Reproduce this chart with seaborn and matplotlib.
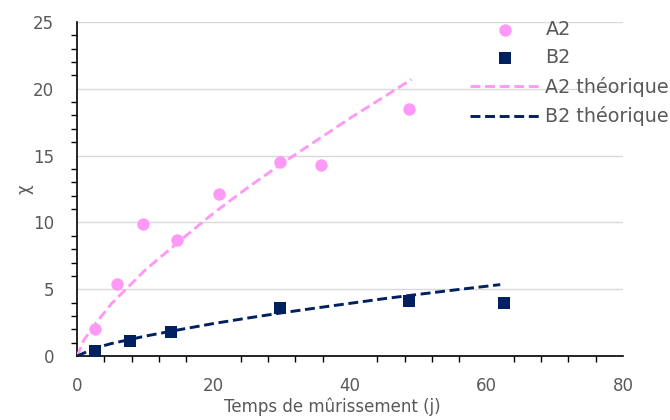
import numpy as np
import matplotlib
matplotlib.use("Agg")
import matplotlib.pyplot as plt
from matplotlib.ticker import MultipleLocator
import seaborn as sns

# measured points
a2_t = [2.6, 5.8, 9.7, 14.7, 20.8, 29.7, 35.8, 48.6]
a2_x = [2.0, 5.4, 9.9, 8.7, 12.1, 14.5, 14.3, 18.5]
b2_t = [2.7, 7.8, 13.7, 29.7, 48.6, 62.6]
b2_x = [0.4, 1.1, 1.8, 3.6, 4.1, 4.0]

# theoretical curves
a2_th_t = [0, 1, 2.5, 5, 10, 15, 20, 25, 30, 35, 40, 45, 49]
a2_th_x = [0, 1.2, 2.3, 3.9, 6.45, 8.6, 10.7, 12.6, 14.4, 16.1, 17.8, 19.4, 20.7]
b2_th_t = [0, 2.5, 5, 10, 15, 20, 25, 30, 35, 40, 45, 50, 55, 62]
b2_th_x = [0, 0.58, 0.94, 1.5, 1.98, 2.44, 2.85, 3.24, 3.6, 3.95, 4.3, 4.62, 4.93, 5.35]

pink = "#FF99F8"
navy = "#002060"
grey = "#595959"

sns.set_style("white")
plt.rcParams["font.family"] = ["DejaVu Sans"]

fig = plt.figure(figsize=(6.7, 4.2), dpi=100)
ax = fig.add_axes([0.115, 0.152, 0.815, 0.796])

sns.scatterplot(x=a2_t, y=a2_x, ax=ax, color=pink, marker="o", s=80,
                linewidth=0, label="A2", zorder=5)
sns.scatterplot(x=b2_t, y=b2_x, ax=ax, color=navy, marker="s", s=64,
                linewidth=0, label="B2", zorder=5)
sns.lineplot(x=a2_th_t, y=a2_th_x, ax=ax, color=pink, lw=2.1,
             dashes=False, label="A2 théorique", zorder=4)
sns.lineplot(x=b2_th_t, y=b2_th_x, ax=ax, color=navy, lw=2.1,
             dashes=False, label="B2 théorique", zorder=4)
for ln in ax.lines:
    ln.set_dashes((3.4, 1.6))

ax.set_xlim(0, 80)
ax.set_ylim(0, 25)
ax.xaxis.set_major_locator(MultipleLocator(20))
ax.xaxis.set_minor_locator(MultipleLocator(4))
ax.yaxis.set_major_locator(MultipleLocator(5))
ax.yaxis.set_minor_locator(MultipleLocator(1))

ax.grid(axis="y", color="#D9D9D9", lw=1)
ax.grid(axis="x", visible=False)
ax.set_axisbelow(True)
for s in ["top", "right"]:
    ax.spines[s].set_visible(False)
for s in ["left", "bottom"]:
    ax.spines[s].set_color("black")
    ax.spines[s].set_linewidth(1.2)

ax.tick_params(which="major", direction="inout", length=12, width=1.2,
               color="black", labelsize=12, labelcolor=grey)
ax.tick_params(axis="x", which="major", pad=9)
ax.tick_params(axis="y", which="major", pad=10.5)
ax.tick_params(which="minor", direction="out", length=4, width=1, color="black",
               left=True, bottom=True)

ax.set_xlabel("Temps de mûrissement (j)", fontsize=12, color=grey)
ax.xaxis.set_label_coords(0.467, -0.125)
ax.set_ylabel("χ", fontsize=12, color=grey)
ax.yaxis.set_label_coords(-0.08, 0.5)

leg = ax.legend(loc="upper right", bbox_to_anchor=(669 / 670, 0.953),
                bbox_transform=fig.transFigure, frameon=False, fontsize=13.8,
                handlelength=3.6, handletextpad=0.32, labelspacing=0.5,
                borderaxespad=0, borderpad=0)
for t in leg.get_texts():
    t.set_color(grey)

fig.savefig("out.png", dpi=100)
